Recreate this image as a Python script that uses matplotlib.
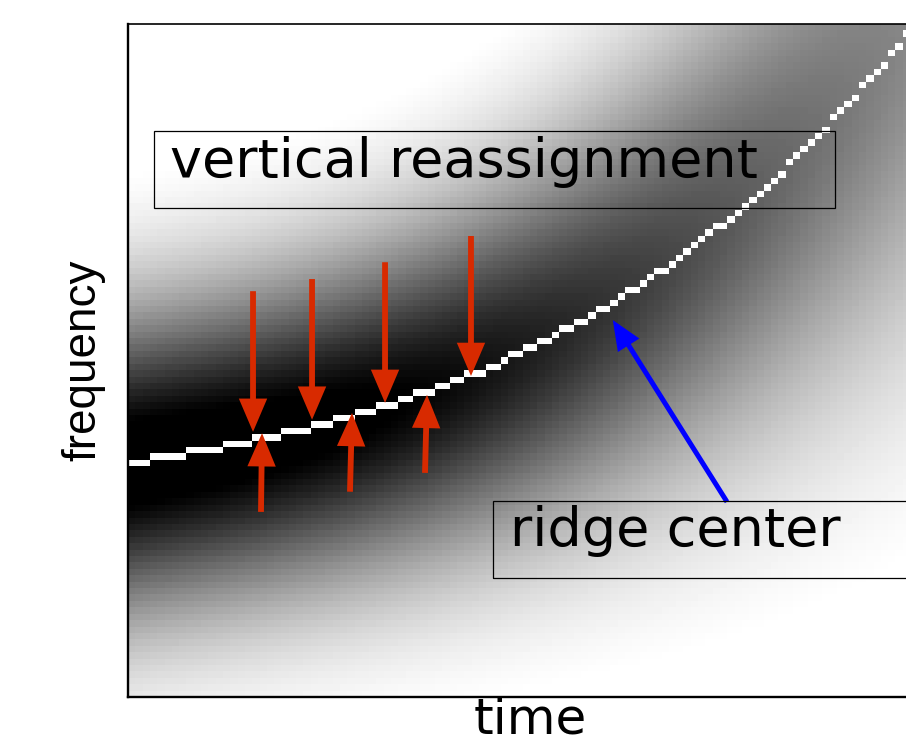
import numpy as np
import matplotlib
matplotlib.use("Agg")
import matplotlib.pyplot as plt
from matplotlib.patches import FancyArrowPatch, Rectangle

# ---- data (axis fractions: time 0..1, frequency 0..1) ----
ridge_time = [0.004, 0.158, 0.290, 0.427, 0.494, 0.596, 0.752, 0.861, 0.968]
ridge_freq = [0.342, 0.392, 0.4235, 0.475, 0.508, 0.572, 0.728, 0.841, 0.976]

# spectrogram band model parameters (read from grey levels)
band_width0 = 0.15     # frequency spread where chirp rate is ~0
band_width_gain = 0.20 # extra spread per unit chirp rate
band_peak = 1.2        # peak darkness
band_shape = 1.8       # profile exponent (2 = gaussian)
band_floor = 0.05      # darkness removed everywhere (white background)
n_time, n_freq = 110, 105

# red arrows (vertical reassignment)
down_t = [0.1555, 0.2289, 0.3197, 0.4266]
down_from = [0.603, 0.621, 0.646, 0.685]
down_to = [0.394, 0.412, 0.437, 0.477]
up_t_from = [0.1654, 0.2761, 0.3694]
up_t_to = [0.1667, 0.2786, 0.3719]
up_from = [0.275, 0.305, 0.333]
up_to = [0.392, 0.422, 0.449]
# blue arrow (ridge center)
blue_from = (0.745, 0.290)
blue_to = (0.603, 0.560)

labels = {"box1": "vertical reassignment", "box2": "ridge center",
          "x": "time", "y": "frequency"}

# ---- build the field ----
ridge = np.poly1d(np.polyfit(ridge_time, ridge_freq, 3))
slope = ridge.deriv()
tc = (np.arange(n_time) + 0.5) / n_time
fc = (np.arange(n_freq) + 0.5) / n_freq
T, F = np.meshgrid(tc, fc)
s = np.sqrt(band_width0**2 + (band_width_gain * slope(T))**2)
A = band_peak * (band_width0 / s) ** 1.05
D = A * np.exp(-0.5 * (np.abs(F - ridge(T)) / s) ** band_shape) - band_floor
Z = np.clip(1 - D, 0, 1)
rows = np.floor(ridge(tc) * n_freq).astype(int)
cols = np.arange(n_time)
ok = (rows >= 0) & (rows < n_freq)
Z[rows[ok], cols[ok]] = 1.0

fig = plt.figure(figsize=(9.06, 7.42), dpi=100)
ax = fig.add_axes([128 / 906, 45 / 742, 804 / 906, 673 / 742])
ax.imshow(Z, extent=[0, 1, 0, 1], origin="lower", aspect="auto",
          cmap="gray", vmin=0, vmax=1, interpolation="nearest")
ax.set_xlim(0, 1)
ax.set_ylim(0, 1)
ax.set_xticks([])
ax.set_yticks([])
for side in ["left", "bottom"]:
    ax.spines[side].set_linewidth(1.7)
ax.spines["top"].set_linewidth(1.2)
ax.spines["right"].set_visible(False)

red = "#d82a00"
arrow_kw = dict(arrowstyle="-|>,head_length=0.75,head_width=0.32",
                mutation_scale=22, color=red, lw=4.2, shrinkA=0, shrinkB=0,
                joinstyle="miter", capstyle="butt", zorder=5)
for t, f0, f1 in zip(down_t, down_from, down_to):
    ax.add_patch(FancyArrowPatch((t, f0), (t, f1), **arrow_kw))
for t0, t1, f0, f1 in zip(up_t_from, up_t_to, up_from, up_to):
    ax.add_patch(FancyArrowPatch((t0, f0), (t1, f1), **arrow_kw))
blue_kw = dict(arrow_kw)
blue_kw.update(color="#0000ff", lw=3.6, mutation_scale=20)
ax.add_patch(FancyArrowPatch(blue_from, blue_to, **blue_kw))

# text boxes
ax.add_patch(Rectangle((0.0323, 0.727), 0.8470, 0.114, fill=False,
                       edgecolor="black", lw=0.9, zorder=6))
ax.text(0.052, 0.773, labels["box1"], fontsize=39, family="DejaVu Sans",
        va="baseline", ha="left", zorder=7)
ax.add_patch(Rectangle((0.454, 0.177), 0.6, 0.114, fill=False,
                       edgecolor="black", lw=0.9, zorder=6, clip_on=True))
ax.text(0.475, 0.224, labels["box2"], fontsize=39, family="DejaVu Sans",
        va="baseline", ha="left", zorder=7)

ax.set_xlabel(labels["x"], fontsize=36, family="DejaVu Sans", labelpad=-1)
ax.set_ylabel(labels["y"], fontsize=33, family="Liberation Sans", labelpad=16)

fig.savefig("out.png", dpi=100)
